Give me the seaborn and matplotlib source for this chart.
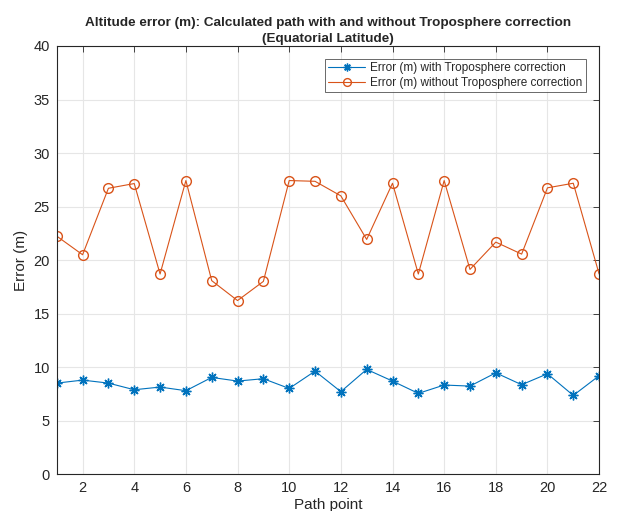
import matplotlib
matplotlib.use("Agg")
import matplotlib.pyplot as plt
import seaborn as sns

# Path point indices
path_points = list(range(1, 23))

# Altitude error (m) with troposphere correction applied
err_with = [8.51, 8.79, 8.51, 7.89, 8.14, 7.80, 9.04, 8.70, 8.92, 8.01, 9.63,
            7.71, 9.79, 8.70, 7.55, 8.33, 8.23, 9.47, 8.36, 9.38, 7.36, 9.20]

# Altitude error (m) without troposphere correction
err_without = [22.24, 20.50, 26.71, 27.15, 18.70, 27.43, 18.08, 16.22, 18.01, 27.43, 27.36,
               26.00, 21.93, 27.18, 18.70, 27.43, 19.13, 21.68, 20.56, 26.75, 27.18, 18.70]

labels = ["Error (m) with Troposphere correction",
          "Error (m) without Troposphere correction"]
x_ticks = list(range(2, 23, 2))
y_ticks = list(range(0, 41, 5))

sns.set_style("whitegrid")
plt.rcParams['font.family'] = ['Liberation Sans', 'DejaVu Sans']

fig = plt.figure(figsize=(6.17, 5.11), dpi=100)
ax = fig.add_axes([0.092, 0.072, 0.879, 0.838])

blue = "#0072BD"
orange = "#D95319"

sns.lineplot(x=path_points, y=err_with, ax=ax, color=blue, lw=0.8,
             marker=(8, 2, 0), markersize=7, markeredgewidth=1.0,
             markeredgecolor=blue, label=labels[0])
sns.lineplot(x=path_points, y=err_without, ax=ax, color=orange, lw=0.8,
             marker="o", markersize=7, markerfacecolor="none",
             markeredgewidth=1.0, markeredgecolor=orange, label=labels[1])

ax.set_xlim(1, 22)
ax.set_ylim(0, 40)
ax.set_xticks(x_ticks)
ax.set_yticks(y_ticks)
ax.tick_params(direction="in", length=4, width=0.6, labelsize=10.5,
               top=True, right=True, colors="#262626", pad=5)
ax.grid(True, color="#e6e6e6", linewidth=0.8)
ax.set_facecolor("white")
for s in ax.spines.values():
    s.set_color("#262626")
    s.set_linewidth(0.8)

ax.set_xlabel("Path point", fontsize=11, color="#262626", labelpad=2)
ax.set_ylabel("Error (m)", fontsize=11, color="#262626", labelpad=4)
ax.set_title("Altitude error (m): Calculated path with and without Troposphere correction\n"
             "(Equatorial Latitude)", fontsize=9.7, fontweight="bold", pad=3,
             linespacing=1.45)

leg = ax.legend(loc="upper right", fontsize=8.5, frameon=True, fancybox=False,
                borderpad=0.3, handlelength=3.1, handletextpad=0.4,
                labelspacing=0.2, borderaxespad=0, markerscale=0.8,
                bbox_to_anchor=(0.975, 0.97))
leg.get_frame().set_edgecolor("#262626")
leg.get_frame().set_linewidth(0.6)

fig.savefig("out.png", dpi=100, facecolor="white")
